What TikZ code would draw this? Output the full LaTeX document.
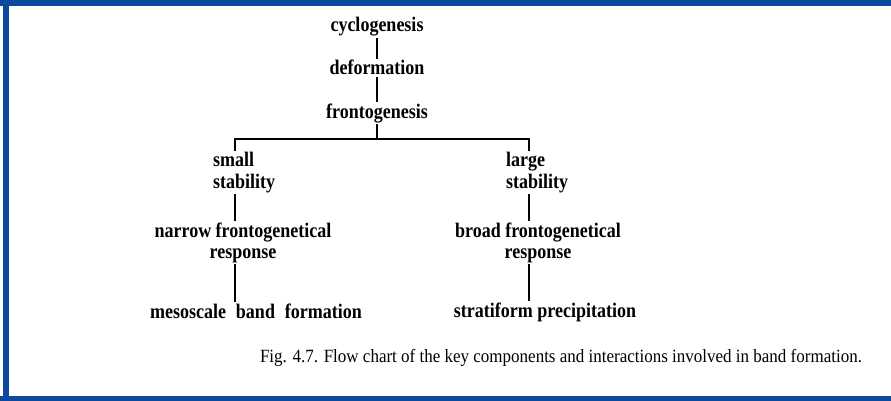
\documentclass[tikz,border=0pt]{standalone}
\usepackage{graphicx}
\usepackage{fontspec}
\setmainfont{Liberation Serif}
\definecolor{frameblue}{RGB}{14,74,156}
\newcommand{\tl}[1]{\scalebox{1}[1.15]{#1}}
\begin{document}
\begin{tikzpicture}[x=1pt,y=-1pt,
  lbl/.style={font=\bfseries\fontsize{18}{21}\selectfont, inner sep=1.5pt, anchor=base},
  conn/.style={line width=1.8pt, black},
  captxt/.style={font=\fontsize{17}{19}\selectfont, inner sep=0pt, anchor=base}]
\useasboundingbox (0,0) rectangle (891,401);
% frame
\fill[frameblue] (0,0) rectangle (891,6);
\fill[frameblue] (3,0) rectangle (8.5,401);
\fill[frameblue] (0,396) rectangle (891,401);
% column x positions
\coordinate (cx) at (377,0);
\coordinate (lx) at (235,0);
\coordinate (rx) at (529,0);
\coordinate (brk) at (0,139);
% nodes
\node[lbl] (cyc) at (377,32) {\tl{cyclogenesis}};
\node[lbl] (def) at (377,75) {\tl{deformation}};
\node[lbl] (fro) at (377,118) {\tl{frontogenesis}};
\node[lbl, anchor=base west, align=left] (sm) at (211.5,188) {\tl{small}\\\tl{stability}};
\node[lbl, align=center] (nar) at (243,258) {\tl{narrow frontogenetical}\\\tl{response}};
\node[lbl] (mes) at (256,318) {\tl{mesoscale\hspace{0.3em} band\hspace{0.3em} formation}};
\node[lbl, anchor=base west, align=left] (lg) at (504.5,188) {\tl{large}\\\tl{stability}};
\node[lbl, align=center] (bro) at (538,258) {\tl{broad frontogenetical}\\\tl{response}};
\node[lbl] (str) at (545,317) {\tl{stratiform precipitation}};
\node[captxt] (caption) at (561,362) {\scalebox{1}[1.1]{Fig. 4.7. Flow chart of the key components and interactions involved in band formation.}};
% connectors
\draw[conn] (cyc) -- (def);
\draw[conn] (def) -- (fro);
\draw[conn] (fro.south -| cx) -- (cx |- brk);
\draw[conn] (sm.north -| lx) |- (cx |- brk) -| (lg.north -| rx);
\draw[conn] (sm.south -| lx) -- (nar.north -| lx);
\draw[conn] (nar.south -| lx) -- (mes.north -| lx);
\draw[conn] (lg.south -| rx) -- (bro.north -| rx);
\draw[conn] (bro.south -| rx) -- (str.north -| rx);
\end{tikzpicture}
\end{document}
